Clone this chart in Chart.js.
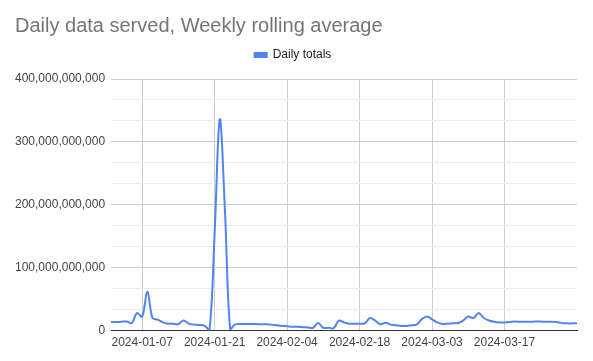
<!DOCTYPE html>
<html>
<head>
<meta charset="utf-8">
<script src="https://cdn.jsdelivr.net/npm/chart.js@4.4.1/dist/chart.umd.min.js"></script>
<style>
html,body{margin:0;padding:0;background:#fff;}
#wrap{width:593px;height:361px;position:relative;}
</style>
</head>
<body>
<div id="wrap"><canvas id="c"></canvas></div>
<script>
const dates = [
"2024-01-01","2024-01-02","2024-01-03","2024-01-04","2024-01-05","2024-01-06","2024-01-07","2024-01-08","2024-01-09","2024-01-10",
"2024-01-11","2024-01-12","2024-01-13","2024-01-14","2024-01-15","2024-01-16","2024-01-17","2024-01-18","2024-01-19","2024-01-20",
"2024-01-21","2024-01-22","2024-01-23","2024-01-24","2024-01-25","2024-01-26","2024-01-27","2024-01-28","2024-01-29","2024-01-30",
"2024-01-31","2024-02-01","2024-02-02","2024-02-03","2024-02-04","2024-02-05","2024-02-06","2024-02-07","2024-02-08","2024-02-09",
"2024-02-10","2024-02-11","2024-02-12","2024-02-13","2024-02-14","2024-02-15","2024-02-16","2024-02-17","2024-02-18","2024-02-19",
"2024-02-20","2024-02-21","2024-02-22","2024-02-23","2024-02-24","2024-02-25","2024-02-26","2024-02-27","2024-02-28","2024-02-29",
"2024-03-01","2024-03-02","2024-03-03","2024-03-04","2024-03-05","2024-03-06","2024-03-07","2024-03-08","2024-03-09","2024-03-10",
"2024-03-11","2024-03-12","2024-03-13","2024-03-14","2024-03-15","2024-03-16","2024-03-17","2024-03-18","2024-03-19","2024-03-20",
"2024-03-21","2024-03-22","2024-03-23","2024-03-24","2024-03-25","2024-03-26","2024-03-27","2024-03-28","2024-03-29","2024-03-30",
"2024-03-31"
];
// Daily totals in billions
const dailyTotalsBillions = [
13.5,13.5,14,14.5,12,28,22,62,20,17.5,
13,11,11,10.5,16,11,9.5,9,8,0.5,
155,336,190,3,10,10.5,10.5,10.5,10.5,10,
10,9.5,8.5,7.5,7,6,6,5.5,5,4.5,
12,4.5,4.5,4,16,13,11,11,11,11.5,
20,16,10,12.5,9.5,8.5,7.5,7.5,8.5,9.5,
18,22.5,18,13,10.5,11,11.5,12,16,22.5,
20,28,20,16,14,13,13,13.5,14.5,14,
14,14,14.5,14.5,14,14,13.5,12,11.5,11.5,
11.5
];
const xTickLabels = ["2024-01-07","2024-01-21","2024-02-04","2024-02-18","2024-03-03","2024-03-17"];
const yMajorTicks = [0, 100000000000, 200000000000, 300000000000, 400000000000];
const yMinorPerMajor = 3;

const FONT = "Arial, 'Liberation Sans', sans-serif";
const values = dailyTotalsBillions.map(v => v * 1e9);

function isMajor(v){ return yMajorTicks.some(m => Math.abs(m - v) < 1); }

const layoutTweaks = {
  id: 'layoutTweaks',
  afterInit(chart) {
    const lg = chart.legend;
    if (lg) {
      const origFit = lg.fit;
      lg.fit = function() { origFit.call(this); this.height += 8; };
    }
    const tb = chart.titleBlock;
    if (tb) {
      const origDraw = tb.draw;
      tb.draw = function() {
        const ctx = this.ctx;
        ctx.save();
        ctx.translate(6, 0);
        origDraw.call(this);
        ctx.restore();
      };
    }
  }
};

new Chart(document.getElementById('c'), {
  type: 'line',
  data: {
    labels: dates,
    datasets: [{
      label: 'Daily totals',
      data: values,
      borderColor: '#5184ee',
      backgroundColor: '#5184ee',
      borderWidth: 2,
      pointRadius: 0,
      pointHoverRadius: 0,
      tension: 0.35,
      fill: false
    }]
  },
  plugins: [layoutTweaks],
  options: {
    responsive: true,
    maintainAspectRatio: false,
    animation: false,
    events: [],
    layout: { padding: { top: 0, left: 9, right: 16, bottom: 6 } },
    plugins: {
      title: {
        display: true,
        text: 'Daily data served, Weekly rolling average',
        align: 'start',
        color: '#757575',
        font: { family: FONT, size: 20, weight: 'normal' },
        padding: { top: 14, bottom: 1 }
      },
      legend: {
        display: true,
        position: 'top',
        align: 'center',
        labels: {
          color: '#222',
          font: { family: FONT, size: 12 },
          boxWidth: 12,
          boxHeight: 4,
          padding: 10
        }
      },
      tooltip: { enabled: false }
    },
    scales: {
      x: {
        type: 'category',
        offset: false,
        border: { display: true, color: '#333', width: 1 },
        grid: {
          drawTicks: false,
          color: '#cccccc',
          lineWidth: 1
        },
        ticks: {
          autoSkip: false,
          maxRotation: 0,
          minRotation: 0,
          padding: 5,
          color: '#444',
          font: { family: FONT, size: 12 },
          callback: function(value) {
            const lbl = this.getLabelForValue(value);
            return xTickLabels.includes(lbl) ? lbl : null;
          }
        }
      },
      y: {
        min: 0,
        max: 400000000000,
        border: { display: false },
        afterBuildTicks: function(scale) {
          const t = [];
          for (let i = 0; i < yMajorTicks.length; i++) {
            t.push({ value: yMajorTicks[i] });
            if (i < yMajorTicks.length - 1) {
              const step = (yMajorTicks[i + 1] - yMajorTicks[i]) / yMinorPerMajor;
              for (let k = 1; k < yMinorPerMajor; k++) t.push({ value: yMajorTicks[i] + step * k });
            }
          }
          scale.ticks = t;
        },
        grid: {
          drawTicks: false,
          lineWidth: 1,
          color: function(ctx) {
            if (!ctx.tick) return '#cccccc';
            if (Math.abs(ctx.tick.value) < 1) return '#333333';
            return isMajor(ctx.tick.value) ? '#cccccc' : '#ebebeb';
          }
        },
        ticks: {
          padding: 6,
          color: '#444',
          font: { family: FONT, size: 12 },
          callback: function(value) {
            return isMajor(value) ? Math.round(value).toLocaleString('en-US') : '';
          }
        }
      }
    }
  }
});
</script>
</body>
</html>
